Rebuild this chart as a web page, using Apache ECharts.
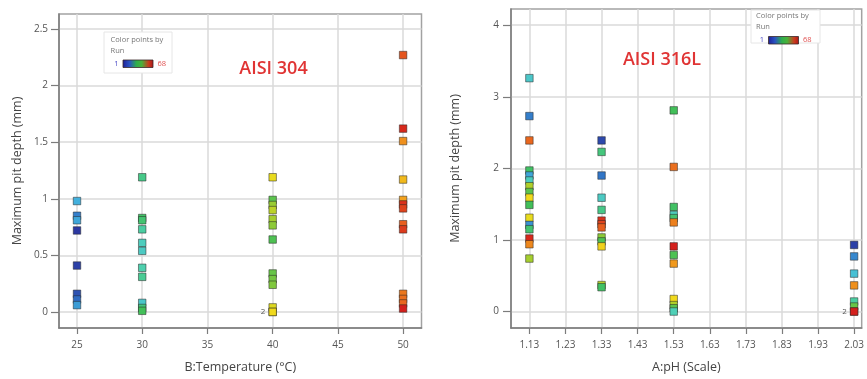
<!DOCTYPE html>
<html>
<head>
<meta charset="utf-8">
<script src="https://cdn.jsdelivr.net/npm/echarts@6/dist/echarts.min.js"></script>
<style>
  html, body { margin: 0; padding: 0; background: #fff; }
  #chart { width: 867px; height: 379px; }
</style>
</head>
<body>
<div id="chart"></div>
<script>
// AISI 304: maximum pit depth (mm) at each temperature (°C), with the run number of each point
const temp304 = [25, 30, 40, 50];
const depth304_25 = [0.98, 0.85, 0.81, 0.72, 0.41, 0.16, 0.11, 0.06];
const run304_25   = [15, 10, 14, 2, 3, 5, 8, 13];
const depth304_30 = [1.19, 0.83, 0.81, 0.73, 0.61, 0.54, 0.39, 0.31, 0.08, 0.035, 0.01];
const run304_30   = [27, 30, 29, 25, 22, 21, 24, 26, 20, 28, 31];
const depth304_40 = [1.19, 0.99, 0.945, 0.90, 0.82, 0.765, 0.64, 0.34, 0.29, 0.24, 0.04, 0, 0];
const run304_40   = [45, 33, 38, 41, 39, 37, 32, 34, 35, 36, 44, 43, 46];
const depth304_50 = [2.27, 1.62, 1.51, 1.17, 0.99, 0.95, 0.915, 0.775, 0.73, 0.16, 0.115, 0.075, 0.03];
const run304_50   = [62, 67, 55, 50, 53, 66, 64, 61, 65, 58, 59, 60, 68];

// AISI 316L: maximum pit depth (mm) at each pH, with the run number of each point
const ph316 = [1.13, 1.33, 1.53, 2.03];
const depth316_113 = [3.26, 2.73, 2.39, 1.97, 1.90, 1.83, 1.75, 1.67, 1.59, 1.49, 1.31, 1.21, 1.15, 1.02, 0.94, 0.74];
const run316_113   = [20, 10, 60, 30, 14, 22, 40, 33, 46, 31, 45, 12, 29, 67, 56, 39];
const depth316_133 = [2.39, 2.23, 1.90, 1.59, 1.42, 1.27, 1.22, 1.175, 1.035, 0.98, 0.91, 0.37, 0.34];
const run316_133   = [4, 28, 9, 21, 27, 66, 64, 61, 37, 32, 47, 41, 30];
const depth316_153 = [2.81, 2.02, 1.46, 1.35, 1.305, 1.245, 0.91, 0.79, 0.67, 0.175, 0.09, 0.046, 0];
const run316_153   = [31, 59, 30, 22, 29, 57, 68, 32, 54, 46, 40, 33, 23];
const depth316_203 = [0.93, 0.77, 0.53, 0.365, 0.14, 0.07, 0, 0];
const run316_203   = [3, 11, 18, 55, 25, 34, 65, 68];

// Tick positions
const tempTicks = [25, 30, 35, 40, 45, 50];
const tempGridTicks = [30, 35, 40, 45, 50];
const depthTicks304 = [0, 0.5, 1, 1.5, 2, 2.5];
const phTicks = [1.13, 1.23, 1.33, 1.43, 1.53, 1.63, 1.73, 1.83, 1.93, 2.03];
const depthTicks316 = [0, 1, 2, 3, 4];
const runRange = [1, 68];

// Colour ramp for the run number
const runColors = ['#2b2f9c', '#2f6fc4', '#45b9e0', '#4fd1b5', '#3fbf5a',
                   '#9ccc30', '#f0dc1c', '#f2a01c', '#e8621e', '#d4201c'];

const FONT = '"Open Sans", "Noto Sans", sans-serif';

// Turn the per-level lists into [x, y, run] items; coincident points get a count label
function buildPoints(levels, depthLists, runLists) {
  const pts = [];
  levels.forEach((x, i) => {
    depthLists[i].forEach((y, j) => pts.push([x, y, runLists[i][j]]));
  });
  const counts = {};
  pts.forEach(p => { const k = p[0] + '|' + p[1]; counts[k] = (counts[k] || 0) + 1; });
  const labelled = {};
  return pts.map(p => {
    const k = p[0] + '|' + p[1];
    const item = { value: p };
    if (counts[k] > 1 && !labelled[k]) {
      labelled[k] = true;
      item.label = { show: true, formatter: String(counts[k]) };
    }
    return item;
  });
}

const points304 = buildPoints(temp304,
  [depth304_25, depth304_30, depth304_40, depth304_50],
  [run304_25, run304_30, run304_40, run304_50]);
const points316 = buildPoints(ph316,
  [depth316_113, depth316_133, depth316_153, depth316_203],
  [run316_113, run316_133, run316_153, run316_203]);

const gridLine = { show: true, lineStyle: { color: '#dadada', width: 1.5 } };
const darkAxis = { show: true, onZero: false, lineStyle: { color: '#7c7c7c', width: 1.5 } };
const tickLabel = { color: '#555', fontSize: 10, fontFamily: FONT };
const axisName = { color: '#444', fontSize: 12.5, fontFamily: FONT };

function xAxisOf(gridIndex, min, max, name, labelValues, gridValues, fmt) {
  return {
    gridIndex, type: 'value', min, max,
    name, nameLocation: 'middle', nameGap: 33, nameTextStyle: axisName,
    axisLine: darkAxis,
    axisTick: { show: true, length: 6, customValues: labelValues, lineStyle: { color: '#7c7c7c', width: 1.2 } },
    axisLabel: Object.assign({ customValues: labelValues, margin: 12, formatter: fmt }, tickLabel),
    splitLine: Object.assign({ customValues: gridValues }, gridLine)
  };
}
function yAxisOf(gridIndex, min, max, ticks, nameGap, margin) {
  return {
    gridIndex, type: 'value', min, max,
    name: 'Maximum pit depth (mm)', nameLocation: 'middle', nameGap, nameTextStyle: axisName,
    axisLine: darkAxis,
    axisTick: { show: true, length: 8, customValues: ticks, lineStyle: { color: '#7c7c7c', width: 1.2 } },
    axisLabel: Object.assign({ customValues: ticks, margin }, tickLabel),
    splitLine: Object.assign({ customValues: ticks }, gridLine)
  };
}

const scatterBase = {
  type: 'scatter',
  symbol: 'rect',
  symbolSize: 7.5,
  itemStyle: { borderColor: 'rgba(35,35,35,0.5)', borderWidth: 1, opacity: 1 },
  label: { show: false, position: 'left', distance: 3, fontSize: 8, color: '#555', fontFamily: FONT },
  emphasis: { disabled: true },
  silent: true
};

// Small "Color points by Run" key
function runKey(bx, by, bw, bh, tx, ty) {
  const grad = new echarts.graphic.LinearGradient(0, 0, 1, 0, [
    { offset: 0, color: '#1e1e96' }, { offset: 0.22, color: '#2a52c2' },
    { offset: 0.45, color: '#2fae4c' }, { offset: 0.62, color: '#49b23a' },
    { offset: 0.85, color: '#cc3a1e' }, { offset: 1, color: '#a8161a' }
  ]);
  const txt = (text, x, y, fill, align) => ({
    type: 'text', x, y, z: 11,
    style: { text, fill, font: '7.5px ' + FONT, align: align || 'left', verticalAlign: 'middle' }
  });
  return [
    { type: 'rect', z: 10, shape: { x: bx, y: by, width: bw, height: bh },
      style: { fill: '#fff', stroke: '#e6e6e6', lineWidth: 1 } },
    txt('Color points by', tx, ty, '#777'),
    txt('Run', tx, ty + 11, '#777'),
    txt(String(runRange[0]), tx + 6, ty + 24, '#4a4ac8', 'center'),
    { type: 'rect', z: 11, shape: { x: tx + 12.5, y: ty + 20.5, width: 30, height: 7.5 },
      style: { fill: grad, stroke: '#3a2a2a', lineWidth: 0.8 } },
    txt(String(runRange[1]), tx + 47, ty + 24, '#e05252')
  ];
}

const chart = echarts.init(document.getElementById('chart'), null, { renderer: 'canvas' });
chart.setOption({
  animation: false,
  backgroundColor: '#fff',
  textStyle: { fontFamily: FONT },
  grid: [
    { left: 59, top: 14, right: 445.5, bottom: 47, show: true, borderColor: '#a2a2a2', borderWidth: 1.5 },
    { left: 511, top: 9, right: 0, bottom: 47, show: true, borderColor: '#a2a2a2', borderWidth: 1.5 }
  ],
  xAxis: [
    xAxisOf(0, 23.62, 51.41, 'B:Temperature (°C)', tempTicks, tempGridTicks),
    xAxisOf(1, 1.079, 2.051, 'A:pH (Scale)', phTicks, phTicks, v => v.toFixed(2))
  ],
  yAxis: [
    yAxisOf(0, -0.142, 2.633, depthTicks304, 35, 11),
    yAxisOf(1, -0.23, 4.226, depthTicks316, 49, 12)
  ],
  visualMap: {
    show: false, type: 'continuous', dimension: 2, seriesIndex: [0, 1],
    min: runRange[0], max: runRange[1], inRange: { color: runColors }
  },
  series: [
    Object.assign({ xAxisIndex: 0, yAxisIndex: 0, data: points304 }, scatterBase),
    Object.assign({ xAxisIndex: 1, yAxisIndex: 1, data: points316 }, scatterBase)
  ],
  graphic: [].concat(
    runKey(104, 32, 68, 41, 110.5, 39.5),
    runKey(751, 10, 69, 33, 756, 16),
    [
      { type: 'text', x: 273.5, y: 69, z: 11,
        style: { text: 'AISI 304', fill: '#e03434', font: '600 18px ' + FONT, align: 'center', verticalAlign: 'middle' } },
      { type: 'text', x: 662, y: 60, z: 11,
        style: { text: 'AISI 316L', fill: '#e03434', font: '600 18px ' + FONT, align: 'center', verticalAlign: 'middle' } }
    ]
  )
});
</script>
</body>
</html>
